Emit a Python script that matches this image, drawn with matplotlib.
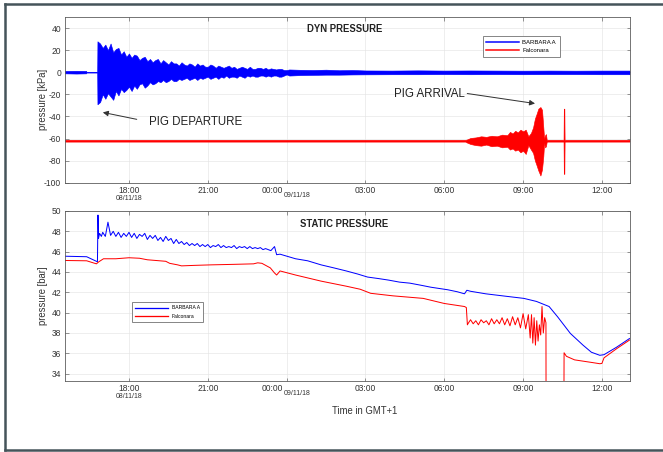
import numpy as np
import matplotlib.pyplot as plt
from matplotlib.lines import Line2D

plt.rcParams["font.family"] = ["Liberation Sans", "DejaVu Sans"]
plt.rcParams["axes.unicode_minus"] = False

BLUE = "#0000ff"
RED = "#ff0000"

# time axis: hours counted from 08/11/18 00:00
x_start, x_end = 15.565, 37.05
tick_hours = [18, 21, 24, 27, 30, 33, 36]
tick_labels = ["18:00", "21:00", "", "03:00", "06:00", "09:00", "12:00"]
series_names = ["BARBARA A", "Falconara"]

# ---- DYN PRESSURE [kPa], drawn as max/min envelope of the oscillation ----
# BARBARA A: quiet part before the pig leaves
dyn_a_pre_t = [15.565, 16.0, 16.37, 16.38, 16.79]
dyn_a_pre_hi = [1.2, 1.3, 1.2, 0.4, 0.4]
dyn_a_pre_lo = [-1.0, -1.2, -1.0, -0.3, -0.3]
# burst after departure, one value every 6 minutes from 16.8 h to 24.0 h
dyn_a_burst_hi = [28, 26, 22, 25, 20, 26, 18, 21, 22, 16,
                  19, 14, 17, 13, 16, 15, 11, 13, 14, 10,
                  12, 9, 11, 12, 8, 11, 9, 7, 10, 8,
                  8, 6, 9, 7, 6, 8, 7, 5, 8, 6,
                  7, 5, 5, 7, 6, 4, 6, 5, 4, 5,
                  6, 4, 5, 3, 4, 5, 4, 3, 5, 3,
                  3, 4, 4, 3, 4, 2.5, 3.5, 3, 2.5, 3,
                  3, 2, 2]
dyn_a_burst_lo = [-29, -27, -20, -24, -19, -22, -25, -17, -21, -15,
                  -18, -16, -13, -17, -12, -15, -11, -10, -14, -12,
                  -9, -11, -10, -8, -9, -7, -9, -8, -6, -8,
                  -8, -6, -7, -6, -5, -7, -6, -5, -7, -5,
                  -6, -5, -4, -6, -5, -4, -6, -4, -5, -3,
                  -5, -4, -4, -5, -3, -4, -5, -3, -4, -3,
                  -4, -4, -3, -3, -4, -3, -4, -3, -3, -4,
                  -4, -3, -2]
dyn_a_post_t = [24.1, 24.5, 25, 25.5, 26, 26.5, 27, 28, 29, 30, 31, 32, 33,
                34, 35, 36, 37.05]
dyn_a_post_hi = [2.5, 2.2, 2.0, 2.3, 1.8, 2.0, 1.6, 1.5, 1.7, 1.5, 1.6, 1.5,
                 1.4, 1.5, 1.4, 1.5, 1.5]
dyn_a_post_lo = [-3.0, -2.6, -2.4, -2.2, -2.2, -2.0, -1.9, -1.8, -1.8, -1.7,
                 -1.8, -1.7, -1.8, -1.7, -1.7, -1.8, -1.8]

# Falconara: flat at -62 kPa until the pig arrives
dyn_b_t = [15.565, 30.8, 30.85, 31.0, 31.2, 31.4, 31.6, 31.8, 32.0, 32.2,
           32.4, 32.5, 32.6, 32.7, 32.8, 32.9, 33.0, 33.1, 33.2, 33.3,
           33.38, 33.45, 33.51, 33.58, 33.66, 33.72, 33.77, 33.8, 33.84, 33.87,
           33.9, 34.54, 34.55, 34.57, 34.58, 37.05]
dyn_b_hi = [-61.2, -61.2, -61, -59.5, -59, -58, -58.5, -57.5, -58, -56.5,
            -57, -54, -55.5, -53, -54.5, -52, -53.5, -52, -58, -55,
            -50, -42, -38, -33, -31.5, -34, -50, -60, -57, -56,
            -61.2, -61.2, -33, -33, -61.2, -61.2]
dyn_b_lo = [-62.8, -62.8, -63.5, -65, -66, -66.5, -65.5, -67, -66.5, -68,
            -67.5, -70, -69, -71, -70, -72.5, -71, -74, -66, -70,
            -73, -80, -84, -89, -93.5, -88, -76, -64, -68, -67,
            -62.8, -62.8, -92, -92, -62.8, -62.8]

# ---- STATIC PRESSURE [bar] ----
stat_a_pre_t = [15.565, 16.39, 16.76, 16.80, 16.82, 16.84, 16.88, 16.95]
stat_a_pre = [45.55, 45.5, 45.05, 45.0, 49.6, 47.3, 47.8, 47.5]
# noisy stretch, one value every 6 minutes from 17.0 h to 23.4 h
stat_a_noisy = [47.9, 47.5, 48.9, 47.6, 48.0, 47.5, 47.9, 47.4, 47.8, 47.5,
                47.9, 47.4, 47.8, 47.3, 47.7, 47.5, 47.8, 47.2, 47.6, 47.3,
                47.6, 47.1, 47.4, 47.0, 47.5, 47.1, 47.3, 46.8, 47.2, 46.8,
                47.0, 46.7, 46.9, 46.6, 46.8, 46.6, 46.8, 46.5, 46.7, 46.5,
                46.7, 46.4, 46.6, 46.5, 46.7, 46.4, 46.6, 46.4, 46.5, 46.4,
                46.6, 46.3, 46.5, 46.4, 46.5, 46.3, 46.5, 46.3, 46.4, 46.3,
                46.4, 46.2, 46.3, 46.2, 46.1]
stat_a_post_t = [23.54, 23.62, 23.75, 24.34, 24.8, 25.31, 25.8, 26.27, 26.7,
                 27.08, 27.5, 27.88, 28.3, 28.69, 29.1, 29.49, 30.13, 30.5,
                 30.77, 30.86, 31.0, 31.58, 32.38, 33.03, 33.51, 33.99, 34.31,
                 34.8, 35.28, 35.6, 35.92, 36.08, 36.56, 37.05]
stat_a_post = [46.5, 45.7, 45.75, 45.3, 45.1, 44.7, 44.4, 44.1, 43.8,
               43.5, 43.35, 43.2, 43.0, 42.9, 42.7, 42.5, 42.25, 42.05,
               41.85, 42.2, 42.1, 41.85, 41.6, 41.4, 41.1, 40.6, 39.6,
               37.95, 36.8, 36.1, 35.8, 35.86, 36.6, 37.45]

stat_b_pre_t = [15.565, 16.39, 16.76, 16.85, 17.03, 17.5, 18.0, 18.4, 18.7,
                19.4, 19.55, 19.85, 20.0, 20.5, 21.13, 22.0, 22.74, 22.9,
                23.06, 23.38, 23.54, 23.62, 23.75, 24.34, 25.31, 26.27, 26.8,
                27.2, 28.05, 29.2, 30.0, 30.77, 30.84, 30.88]
stat_b_pre = [45.13, 45.1, 44.8, 45.0, 45.3, 45.3, 45.4, 45.35, 45.2,
              45.05, 44.85, 44.7, 44.6, 44.65, 44.7, 44.75, 44.8, 44.9,
              44.85, 44.4, 43.9, 43.7, 44.1, 43.7, 43.1, 42.6, 42.3,
              41.9, 41.65, 41.4, 40.9, 40.6, 40.5, 38.8]
# noisy stretch, one value every 6 minutes from 30.9 h to 33.2 h
stat_b_noisy = [38.9, 39.3, 38.9, 39.2, 38.8, 39.3, 39.0, 39.2, 38.8, 39.4,
                38.9, 39.3, 38.9, 39.5, 38.8, 39.4, 38.7, 39.6, 38.8, 39.5,
                38.5, 39.9, 38.4, 39.8]
stat_b_post_t = [33.27, 33.32, 33.37, 33.42, 33.47, 33.52, 33.57, 33.62,
                 33.67, 33.72, 33.77, 33.82, 33.87, 33.88, 34.54, 34.56,
                 34.65, 34.96, 35.6, 35.92, 36.0, 36.08, 36.56, 37.05]
stat_b_post = [37.5, 39.8, 37.0, 39.5, 36.8, 39.2, 37.2, 38.8,
               37.8, 40.6, 38.0, 39.5, 39.0, 20.0, 20.0, 36.05,
               35.7, 35.35, 35.1, 34.97, 35.0, 35.55, 36.45, 37.3]

# ---- assemble ----
burst_t = np.round(np.arange(16.8, 24.05, 0.1), 2)
dyn_a_t = np.concatenate([dyn_a_pre_t, burst_t, dyn_a_post_t])
dyn_a_hi = np.concatenate([dyn_a_pre_hi, dyn_a_burst_hi, dyn_a_post_hi])
dyn_a_lo = np.concatenate([dyn_a_pre_lo, dyn_a_burst_lo, dyn_a_post_lo])

stat_a_t = np.concatenate([stat_a_pre_t, np.round(np.arange(17.0, 23.45, 0.1), 2), stat_a_post_t])
stat_a = np.concatenate([stat_a_pre, stat_a_noisy, stat_a_post])
stat_b_t = np.concatenate([stat_b_pre_t, np.round(np.arange(30.9, 33.25, 0.1), 2), stat_b_post_t])
stat_b = np.concatenate([stat_b_pre, stat_b_noisy, stat_b_post])

W, H = 663, 452
fig = plt.figure(figsize=(W / 72, H / 72), dpi=72)


def px_axes(left, top, right, bottom):
    return fig.add_axes([left / W, 1 - bottom / H, (right - left) / W, (bottom - top) / H])


def style_axes(ax, yticks, ylabel):
    ax.set_xlim(x_start, x_end)
    ax.set_xticks(tick_hours)
    ax.set_xticklabels(tick_labels)
    ax.set_yticks(yticks)
    ax.grid(True, color="#e3e3e3", lw=0.6)
    ax.set_axisbelow(True)
    for s in ax.spines.values():
        s.set_color("#555555")
        s.set_linewidth(0.8)
    ax.tick_params(direction="in", length=3.5, width=0.6, top=True, right=True,
                   labelsize=8.5, labelcolor="#333333", color="#555555")
    ax.tick_params(axis="x", pad=3.5)
    ax.tick_params(axis="y", pad=4)
    ax.set_ylabel(ylabel, fontsize=9.5, color="#333333")
    ax.yaxis.set_label_coords(-0.031, 0.5)
    # date sub-labels
    ax.annotate("08/11/18", xy=(18, 0), xycoords=("data", "axes fraction"),
                xytext=(0, -16), textcoords="offset points", ha="center",
                va="center", fontsize=7, color="#333333")
    ax.annotate("00:00", xy=(24, 0), xycoords=("data", "axes fraction"),
                xytext=(-14.5, -8.2), textcoords="offset points", ha="center",
                va="center", fontsize=8.5, color="#333333")
    ax.annotate("09/11/18", xy=(24, 0), xycoords=("data", "axes fraction"),
                xytext=(-2.5, -12.8), textcoords="offset points", ha="left",
                va="center", fontsize=7, color="#333333")


# top panel
ax1 = px_axes(65, 17, 629.5, 182.7)
ax1.fill_between(dyn_a_t, dyn_a_lo, dyn_a_hi, color=BLUE, lw=0.6)
ax1.fill_between(dyn_b_t, dyn_b_lo, dyn_b_hi, color=RED, lw=0.6)
ax1.set_ylim(-100, 50)
style_axes(ax1, np.arange(-100, 41, 20), "pressure [kPa]")
ax1.text(0.495, 0.928, "DYN PRESSURE", transform=ax1.transAxes, ha="center",
         va="center", fontsize=9.5, fontweight="bold", color="#222222")
ax1.annotate("", xy=(16.93, -36), xytext=(18.37, -43),
             arrowprops=dict(arrowstyle="-|>", color="#333333", lw=1, mutation_scale=11))
ax1.text(18.76, -45.2, "PIG DEPARTURE", fontsize=11.5, va="center", color="#222222")
ax1.annotate("", xy=(33.53, -28.6), xytext=(30.8, -19),
             arrowprops=dict(arrowstyle="-|>", color="#333333", lw=1, mutation_scale=11))
ax1.text(30.8, -20, "PIG ARRIVAL", fontsize=11.5, va="center", ha="right", color="#222222")
handles = [Line2D([], [], color=BLUE, lw=1.5), Line2D([], [], color=RED, lw=1.5)]
ax1.legend(handles, series_names, loc="upper left", bbox_to_anchor=(482.7 / W, 1 - 36 / H),
           bbox_transform=fig.transFigure, borderaxespad=0, fontsize=6,
           handlelength=5.5, handletextpad=0.5, borderpad=0.6, labelspacing=0.5,
           fancybox=False, framealpha=1, edgecolor="#888888")

# bottom panel
ax2 = px_axes(65, 211, 629.5, 380.7)
ax2.plot(stat_a_t, stat_a, color=BLUE, lw=1.0)
ax2.plot(stat_b_t, stat_b, color=RED, lw=1.0)
ax2.set_ylim(33.3, 50)
style_axes(ax2, np.arange(34, 51, 2), "pressure [bar]")
ax2.text(0.495, 0.925, "STATIC PRESSURE", transform=ax2.transAxes, ha="center",
         va="center", fontsize=9.5, fontweight="bold", color="#222222")
handles = [Line2D([], [], color=BLUE, lw=1.3), Line2D([], [], color=RED, lw=1.3)]
ax2.legend(handles, series_names, loc="upper left", bbox_to_anchor=(131.7 / W, 1 - 302.3 / H),
           bbox_transform=fig.transFigure, borderaxespad=0, fontsize=5,
           handlelength=6.6, handletextpad=0.8, borderpad=0.6, labelspacing=0.7,
           fancybox=False, framealpha=1, edgecolor="#888888")

fig.text(365 / W, 1 - 410.7 / H, "Time in GMT+1", ha="center", va="center",
         fontsize=9.5, color="#333333")

# document frame (left, top and bottom edges only; right edge is off the page)
frame_kw = dict(transform=fig.transFigure, color="#45545a", lw=2.5)
fig.add_artist(Line2D([5 / W, 5 / W], [1 - 450 / H, 1 - 4 / H], **frame_kw))
fig.add_artist(Line2D([5 / W, 1.0], [1 - 4 / H, 1 - 4 / H], **frame_kw))
fig.add_artist(Line2D([5 / W, 1.0], [1 - 450 / H, 1 - 450 / H], **frame_kw))

fig.savefig("out.png", dpi=72)
